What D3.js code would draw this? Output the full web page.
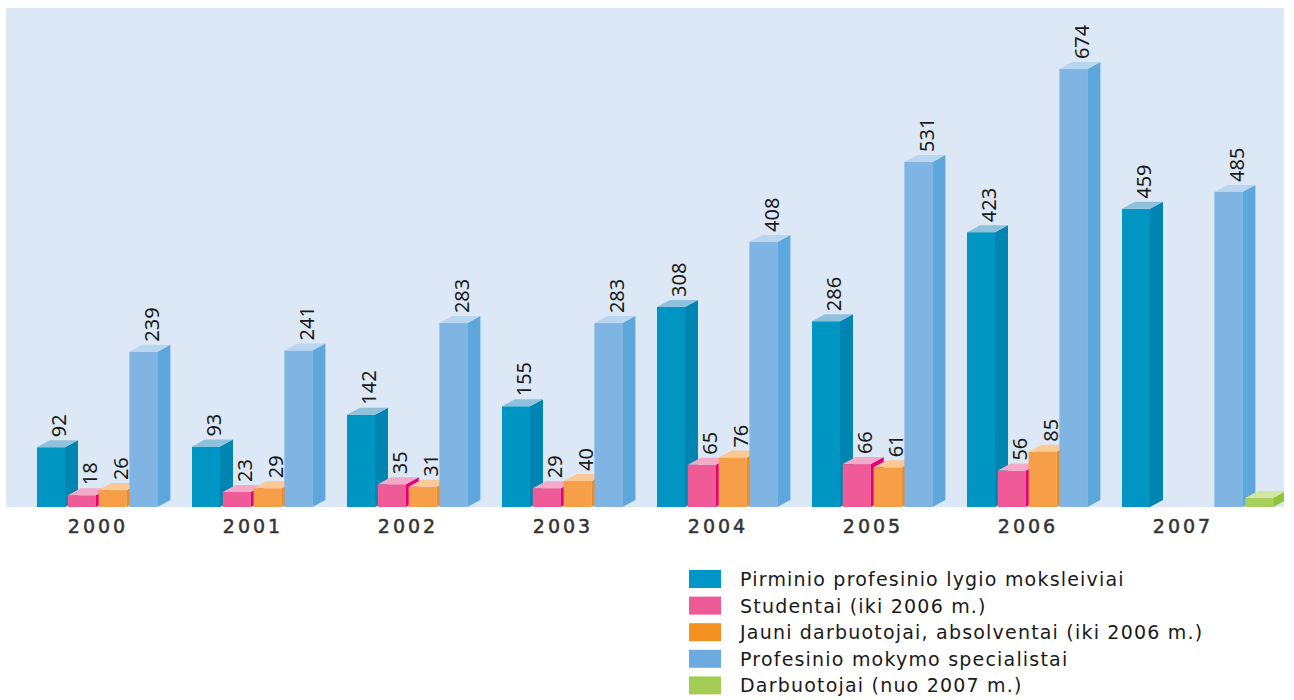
<!DOCTYPE html>
<html lang="lt">
<head>
<meta charset="UTF-8">
<title>Dalyviai pagal metus</title>
<script src="https://d3js.org/d3.v7.min.js"></script>
<style>
  body { margin: 0; background: #fff; }
  svg { display: block; }
  .val { font-family: "Noto Sans", sans-serif; font-size: 20px; fill: #1a1a1a; }
  .year { font-family: "DejaVu Sans", sans-serif; font-size: 19px; fill: #333; stroke: #333; stroke-width: 0.5px; letter-spacing: 3px; }
  .leg { font-family: "DejaVu Sans", sans-serif; font-size: 19px; fill: #1a1a1a; letter-spacing: 1.2px; }
</style>
</head>
<body>
<script>
  // data
  const years = ["2000", "2001", "2002", "2003", "2004", "2005", "2006", "2007"];
  const pirminio = [92, 93, 142, 155, 308, 286, 423, 459];
  const studentai = [18, 23, 35, 29, 65, 66, 56, null];
  const jauni = [26, 29, 31, 40, 76, 61, 85, null];
  const specialistai = [239, 241, 283, 283, 408, 531, 674, 485];
  const darbuotojai = [null, null, null, null, null, null, null, 14]; // no label in source
  const seriesNames = [
    "Pirminio profesinio lygio moksleiviai",
    "Studentai (iki 2006 m.)",
    "Jauni darbuotojai, absolventai (iki 2006 m.)",
    "Profesinio mokymo specialistai",
    "Darbuotojai (nuo 2007 m.)"
  ];

  const series = [
    { key: "pir", values: pirminio, label: true, front: "#0096c3", side: "#0085b3", top: "#8fc1dc", leg: "#0096c8" },
    { key: "stu", values: studentai, label: true, front: "#ef5b97", side: "#e6007e", top: "#f5a9c8", leg: "#ee5a95" },
    { key: "jau", values: jauni, label: true, front: "#f79f48", side: "#f28b1f", top: "#fcc994", leg: "#f39020" },
    { key: "spe", values: specialistai, label: true, front: "#7fb4e3", side: "#5ea7dc", top: "#b8d6ef", leg: "#6cabe0" },
    { key: "dar", values: darbuotojai, label: false, front: "#a9d05a", side: "#8dc43b", top: "#cfe7a0", leg: "#a3cd52" }
  ];

  const W = 1294, H = 700;
  const panel = { x: 6, y: 8, w: 1278, h: 499 };
  const base = panel.y + panel.h;
  const barW = 28, dx = 13, dy = 7;

  const svg = d3.select("body").append("svg").attr("width", W).attr("height", H);

  svg.append("rect")
    .attr("x", panel.x).attr("y", panel.y)
    .attr("width", panel.w).attr("height", panel.h)
    .attr("fill", "#dce8f5");

  svg.append("clipPath").attr("id", "pclip")
    .append("rect").attr("x", panel.x).attr("y", 0).attr("width", panel.w).attr("height", base);

  const x0 = d3.scaleBand().domain(years).range([37, 37 + 155 * years.length]);
  const x1 = d3.scaleBand().domain(series.map(s => s.key)).range([0, 154]);
  const y = d3.scaleLinear().domain([0, 768]).range([base, panel.y]);

  const bars = svg.append("g").attr("clip-path", "url(#pclip)");
  const labels = svg.append("g");

  years.forEach((yr, i) => {
    series.forEach(s => {
      const v = s.values[i];
      if (v == null) return;
      const x = x0(yr) + x1(s.key);
      const t = y(v);
      const g = bars.append("g");
      g.append("rect").attr("x", x).attr("y", t).attr("width", barW).attr("height", base - t).attr("fill", s.front);
      g.append("path")
        .attr("d", `M${x + barW},${t}L${x + barW + dx},${t - dy}L${x + barW + dx},${base - dy}L${x + barW},${base}Z`)
        .attr("fill", s.side);
      g.append("path")
        .attr("d", `M${x},${t}L${x + dx},${t - dy}L${x + barW + dx},${t - dy}L${x + barW},${t}Z`)
        .attr("fill", s.top);
      if (s.label) {
        const lx = x + barW / 2 + 8, ly = t - dy - 3;
        labels.append("text")
          .attr("class", "val")
          .attr("transform", `translate(${lx},${ly}) rotate(-90)`)
          .attr("dy", "0.36em")
          .text(v);
      }
    });
  });

  svg.append("g").selectAll("text")
    .data(years)
    .join("text")
    .attr("class", "year")
    .attr("x", d => x0(d) + 61)
    .attr("y", 533)
    .attr("text-anchor", "middle")
    .text(d => d);

  const leg = svg.append("g").attr("transform", "translate(689,570)");
  const rowH = 26.6;
  series.forEach((s, i) => {
    leg.append("rect").attr("x", 0).attr("y", i * rowH).attr("width", 32).attr("height", 18).attr("fill", s.leg);
    leg.append("text").attr("class", "leg")
      .attr("x", 51).attr("y", i * rowH + 16)
      .text(seriesNames[i]);
  });
</script>
</body>
</html>
